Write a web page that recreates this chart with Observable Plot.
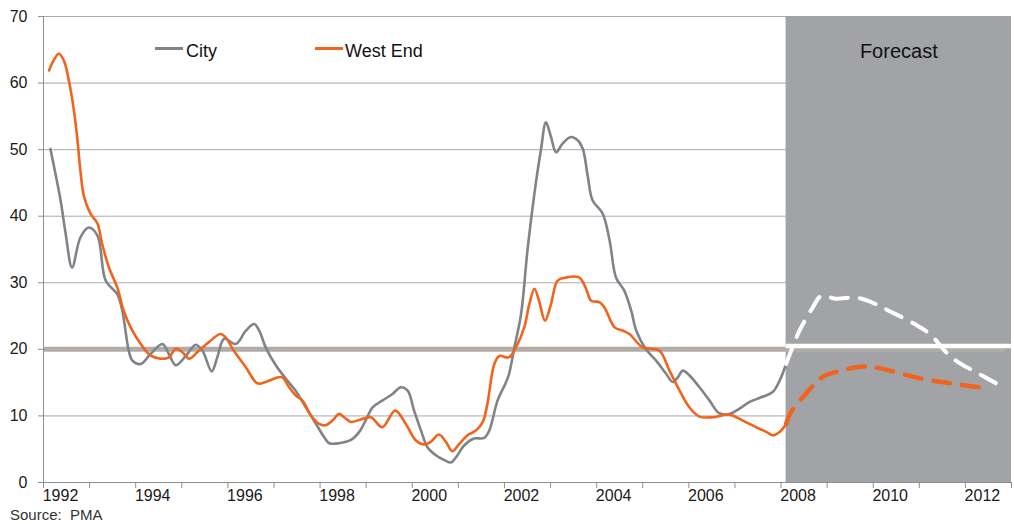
<!DOCTYPE html>
<html>
<head>
<meta charset="utf-8">
<script src="https://cdn.jsdelivr.net/npm/d3@7"></script>
<script src="https://cdn.jsdelivr.net/npm/@observablehq/plot@0.6"></script>
<style>
  html, body { margin: 0; padding: 0; background: #fff; }
  body { width: 1014px; height: 524px; overflow: hidden; font-family: "Liberation Sans", Arial, sans-serif; }
  #wrap { position: relative; width: 1014px; }
  .leg { position: absolute; font-size: 18px; line-height: 20px; color: #111; white-space: nowrap; }
  .sw { position: absolute; height: 3px; width: 28px; }
  #source { font-size: 15px; line-height: 17px; color: #333; padding-left: 10px; margin-top: 1px; }
</style>
</head>
<body>
<div id="wrap">
  <div id="chart"></div>
  <div class="sw" style="left:155px; top:47px; background:#808389;"></div>
  <div class="leg" style="left:186px; top:41px;">City</div>
  <div class="sw" style="left:315px; top:47px; background:#f0641e;"></div>
  <div class="leg" style="left:345px; top:41px;">West End</div>
</div>
<div id="source">Source:&nbsp; PMA</div>
<script>
// ---- Data (year, value) ----
const cityActual = [
  [1992.15,50.1],[1992.37,42.4],[1992.48,37.4],[1992.62,32.3],[1992.80,36.8],[1992.98,38.3],
  [1993.17,37.1],[1993.35,30.3],[1993.60,28.3],[1993.71,25.8],[1993.85,19.8],[1993.93,18.3],
  [1994.11,17.8],[1994.32,19.3],[1994.58,20.8],[1994.72,19.3],[1994.87,17.6],[1995.12,19.3],
  [1995.30,20.7],[1995.45,19.8],[1995.65,16.7],[1995.77,18.8],[1995.92,21.6],[1996.17,20.8],
  [1996.39,22.8],[1996.57,23.8],[1996.68,22.8],[1996.82,20.3],[1997.04,17.6],[1997.29,15.3],
  [1997.47,13.8],[1997.69,11.3],[1997.91,8.8],[1998.09,6.8],[1998.20,5.9],[1998.41,5.9],
  [1998.67,6.4],[1998.85,7.6],[1999.00,9.5],[1999.14,11.3],[1999.35,12.3],[1999.57,13.3],
  [1999.75,14.3],[1999.90,13.8],[2000.04,10.8],[2000.19,7.8],[2000.33,5.3],[2000.51,4.1],
  [2000.69,3.4],[2000.84,3.0],[2000.95,3.8],[2001.13,5.6],[2001.34,6.6],[2001.56,6.7],
  [2001.67,7.8],[2001.85,12.3],[2002.03,15.0],[2002.10,16.3],[2002.21,20.1],[2002.36,25.3],
  [2002.50,34.9],[2002.65,43.4],[2002.79,49.9],[2002.90,54.1],[2003.01,51.9],[2003.12,49.6],
  [2003.26,50.9],[2003.44,51.9],[2003.59,51.4],[2003.70,50.1],[2003.81,45.9],[2003.91,42.4],
  [2004.13,40.4],[2004.28,36.4],[2004.42,30.8],[2004.60,28.8],[2004.75,25.8],[2004.86,22.8],
  [2005.07,20.0],[2005.29,18.3],[2005.51,16.3],[2005.65,15.1],[2005.76,15.8],[2005.87,16.8],
  [2006.01,16.1],[2006.23,14.3],[2006.45,12.3],[2006.66,10.4],[2006.88,10.3],[2007.10,11.1],
  [2007.32,12.1],[2007.57,12.8],[2007.82,13.6],[2007.97,15.3],[2008.11,17.8]
];
const cityForecast = [
  [2008.11,17.8],[2008.40,22.8],[2008.69,26.3],[2008.87,28.0],[2009.20,27.6],[2009.60,27.8],
  [2009.89,27.3],[2010.25,26.1],[2010.90,23.8],[2011.23,22.3],[2011.70,18.8],[2012.35,16.1],
  [2012.75,14.6]
];
const westEndActual = [
  [1992.12,61.9],[1992.22,63.4],[1992.33,64.4],[1992.44,63.4],[1992.55,60.4],[1992.66,55.9],
  [1992.73,51.9],[1992.80,46.9],[1992.88,42.9],[1993.02,40.4],[1993.17,38.9],[1993.27,35.9],
  [1993.42,32.3],[1993.60,29.3],[1993.74,25.8],[1993.89,23.3],[1994.11,20.8],[1994.32,19.1],
  [1994.54,18.6],[1994.72,18.8],[1994.87,20.1],[1995.01,19.6],[1995.16,18.6],[1995.34,19.6],
  [1995.59,21.1],[1995.84,22.3],[1995.95,21.8],[1996.13,19.8],[1996.39,17.3],[1996.64,14.9],
  [1996.82,15.1],[1997.04,15.7],[1997.18,15.8],[1997.33,14.3],[1997.47,13.1],[1997.62,12.3],
  [1997.80,10.1],[1997.98,8.8],[1998.12,8.6],[1998.27,9.3],[1998.41,10.3],[1998.52,9.8],
  [1998.67,9.1],[1998.85,9.4],[1999.10,9.8],[1999.35,8.3],[1999.63,10.8],[1999.86,8.8],
  [2000.08,6.3],[2000.26,5.7],[2000.40,6.1],[2000.58,7.2],[2000.73,6.1],[2000.87,4.7],
  [2001.02,5.8],[2001.20,7.1],[2001.38,7.8],[2001.53,9.1],[2001.63,11.8],[2001.78,17.8],
  [2001.89,19.0],[2002.10,18.8],[2002.25,20.3],[2002.43,23.3],[2002.54,26.8],[2002.65,29.1],
  [2002.75,27.3],[2002.88,24.3],[2003.01,26.8],[2003.15,30.3],[2003.34,30.8],[2003.62,30.8],
  [2003.77,29.1],[2003.88,27.3],[2004.06,27.1],[2004.17,26.3],[2004.39,23.3],[2004.57,22.8],
  [2004.71,22.3],[2005.00,20.3],[2005.36,19.8],[2005.58,16.8],[2005.80,13.8],[2006.01,11.3],
  [2006.23,9.9],[2006.52,9.8],[2006.88,10.2],[2007.17,9.3],[2007.46,8.3],[2007.68,7.6],
  [2007.82,7.1],[2007.97,7.6],[2008.11,8.8]
];
const westEndForecast = [
  [2008.11,8.8],[2008.22,10.6],[2008.51,13.1],[2008.91,15.9],[2009.31,16.8],[2009.71,17.4],
  [2010.03,17.3],[2011.05,15.6],[2011.77,14.8],[2012.53,14.1]
];
const forecastStart = 2008.11;
const axisStart = 1992;
const axisEnd = 2013;
const benchmark = 20;
const yTicks = [0, 10, 20, 30, 40, 50, 60, 70];
const yearTicks = d3.range(1992, 2014);
const yearLabels = [1992, 1994, 1996, 1998, 2000, 2002, 2004, 2006, 2008, 2010, 2012];

const C_CITY = "#808389", C_WE = "#f0641e", C_AXIS = "#8e8e96", C_GRID = "#a9a9b0";
const X = d => d[0], Y = d => d[1];

const chart = Plot.plot({
  width: 1014, height: 505,
  marginLeft: 43, marginRight: 3, marginTop: 16, marginBottom: 23,
  x: {domain: [axisStart, axisEnd]},
  y: {domain: [0, 70]},
  style: {fontFamily: "'Liberation Sans', Arial, sans-serif", fontSize: "16px", color: "#1a1a1a", background: "#fff"},
  marks: [
    Plot.ruleY(yTicks.filter(d => d > 0), {stroke: C_GRID, strokeWidth: 1}),
    Plot.rect([{x1: forecastStart, x2: axisEnd, y1: 0, y2: 70}], {x1: "x1", x2: "x2", y1: "y1", y2: "y2", fill: "#a2a3a7"}),
    Plot.ruleY([{y: benchmark, x1: axisStart, x2: 2012.87}], {y: "y", x1: "x1", x2: "x2", stroke: "#b1aca8", strokeWidth: 5}),
    Plot.ruleY([{y: benchmark + 0.5, x1: forecastStart, x2: axisEnd}], {y: "y", x1: "x1", x2: "x2", stroke: "#ffffff", strokeWidth: 4.5}),
    Plot.line(cityActual, {x: X, y: Y, stroke: C_CITY, strokeWidth: 2.6, curve: "catmull-rom"}),
    Plot.line(westEndActual, {x: X, y: Y, stroke: C_WE, strokeWidth: 2.6, curve: "catmull-rom"}),
    Plot.line(cityForecast, {x: X, y: Y, stroke: "#ffffff", strokeWidth: 4, strokeDasharray: "17,12", curve: "catmull-rom"}),
    Plot.line(westEndForecast, {x: X, y: Y, stroke: C_WE, strokeWidth: 4.5, strokeDasharray: "17,12", curve: "catmull-rom"}),
    Plot.text([{x: (forecastStart + axisEnd) / 2, y: 70, t: "Forecast"}], {x: "x", y: "y", text: "t", dy: 35, fontSize: 20, fill: "#111"}),
    Plot.ruleX([axisStart], {stroke: C_AXIS, strokeWidth: 1}),
    Plot.ruleY([0], {stroke: C_AXIS, strokeWidth: 1}),
    Plot.axisY({ticks: yTicks, tickSize: 5, tickPadding: 11, stroke: C_AXIS, fontSize: 16, fill: "#1a1a1a", label: null}),
    Plot.axisX({ticks: yearTicks, tickSize: 6, tickFormat: () => "", stroke: C_AXIS, label: null}),
    Plot.axisX({ticks: yearLabels, tickSize: 0, tickPadding: 7, dx: 17, tickFormat: d => String(d), fontSize: 16, fill: "#1a1a1a", label: null})
  ]
});
document.getElementById("chart").appendChild(chart);
</script>
</body>
</html>
